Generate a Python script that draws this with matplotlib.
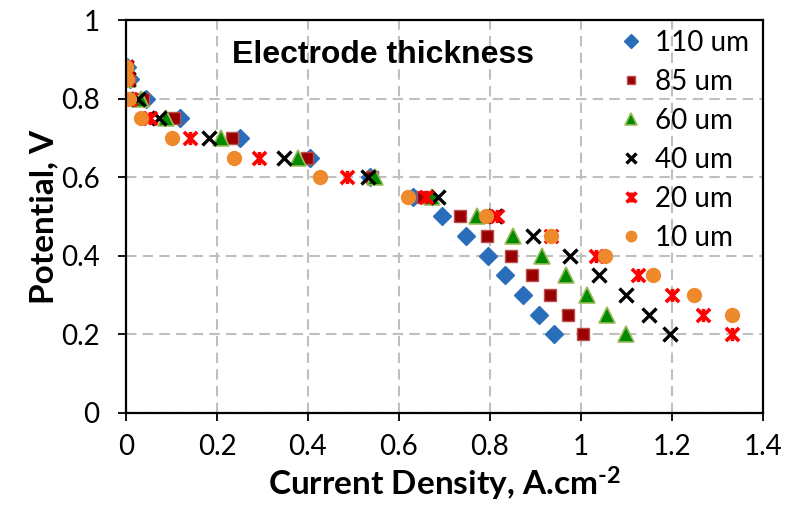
import numpy as np
import matplotlib
matplotlib.use("Agg")
import matplotlib.pyplot as plt
from matplotlib.path import Path

# potential levels (V)
potential = [0.88, 0.85, 0.8, 0.75, 0.7, 0.65, 0.6, 0.55, 0.5, 0.45, 0.4, 0.35, 0.3, 0.25, 0.2]

# current density (A/cm2) per electrode thickness
j_110 = [0.003, 0.008, 0.045, 0.119, 0.25, 0.405, 0.536, 0.63, 0.695, 0.748, 0.795, 0.834, 0.872, 0.907, 0.941]
j_85 = [0.002, 0.006, 0.037, 0.105, 0.232, 0.397, 0.541, 0.652, 0.734, 0.794, 0.847, 0.892, 0.933, 0.972, 1.004]
j_60 = [0.002, 0.005, 0.032, 0.089, 0.209, 0.377, 0.548, 0.673, 0.772, 0.851, 0.914, 0.967, 1.013, 1.058, 1.098]
j_40 = [0.001, 0.004, 0.027, 0.073, 0.183, 0.348, 0.531, 0.686, 0.81, 0.895, 0.976, 1.04, 1.099, 1.15, 1.196]
j_20 = [0.001, 0.003, 0.009, 0.053, 0.141, 0.293, 0.485, 0.659, 0.815, 0.935, 1.034, 1.126, 1.201, 1.269, 1.331]
j_10 = [0.0, 0.002, 0.007, 0.032, 0.102, 0.237, 0.426, 0.619, 0.791, 0.935, 1.053, 1.158, 1.249, 1.333]

labels = ["110 um", "85 um", "60 um", "40 um", "20 um", "10 um"]

# excel-like star marker: x plus vertical bar
star = Path([(-1, -1), (1, 1), (-1, 1), (1, -1), (0, -1), (0, 1)],
            [Path.MOVETO, Path.LINETO, Path.MOVETO, Path.LINETO, Path.MOVETO, Path.LINETO])

plt.rcParams['font.family'] = ['Lato', 'DejaVu Sans']
plt.rcParams['mathtext.fontset'] = 'custom'
plt.rcParams['mathtext.rm'] = 'Lato:bold'
plt.rcParams['mathtext.default'] = 'rm'

fig = plt.figure(figsize=(7.86, 5.12), dpi=100)
ax = fig.add_axes([0.1603, 0.1934, 0.8104, 0.7675])

ax.plot(j_110, potential, ls='none', marker='D', ms=9, mfc='#2A6EBB', mec='#2A6EBB', label=labels[0])
ax.plot(j_85, potential, ls='none', marker='s', ms=8.5, mfc='#990000', mec='#B8504D', label=labels[1])
ax.plot(j_60, potential, ls='none', marker='^', ms=11, mfc='#008A00', mec='#9BBB59', mew=1.2, label=labels[2])
ax.plot(j_40, potential, ls='none', marker='x', ms=9.5, mec='black', mew=2.4, label=labels[3])
ax.plot(j_20, potential, ls='none', marker=star, ms=9.5, mec='#FF0000', mew=2.6, label=labels[4])
ax.plot(j_10, potential[:len(j_10)], ls='none', marker='o', ms=10, mfc='#EE8A2C', mec='#EE8A2C', label=labels[5])

ax.set_xlim(0, 1.4)
ax.set_ylim(0, 1)
ax.set_xticks(np.arange(0, 1.41, 0.2))
ax.set_yticks(np.arange(0, 1.01, 0.2))
ax.set_xticklabels(['0', '0.2', '0.4', '0.6', '0.8', '1', '1.2', '1.4'])
ax.set_yticklabels(['0', '0.2', '0.4', '0.6', '0.8', '1'])
ax.tick_params(labelsize=20, width=1.3, length=6, direction='out')
ax.tick_params(axis='x', pad=9)
ax.tick_params(axis='y', pad=13)

ax.grid(True, color='#BFBFBF', lw=1.5, ls=(0, (5, 3)))
ax.set_axisbelow(True)
for s in ax.spines.values():
    s.set_linewidth(1.6)
    s.set_color('black')

ax.set_xlabel('Current Density, A.cm$^{\\text{-2}}$', fontsize=24, fontweight='bold', labelpad=4)
ax.set_ylabel('Potential, V', fontsize=24, fontweight='bold', labelpad=2)

ax.text(0.166, 0.912, 'Electrode thickness', transform=ax.transAxes, fontsize=23,
        fontweight='bold', family='Liberation Sans', va='center', ha='left')

ax.legend(loc='upper left', bbox_to_anchor=(0.745, 1.025), frameon=False, fontsize=20,
          handlelength=0.8, handletextpad=0.45, labelspacing=0.47, borderpad=0.2,
          markerscale=0.75)

fig.savefig('out.png', dpi=100)
